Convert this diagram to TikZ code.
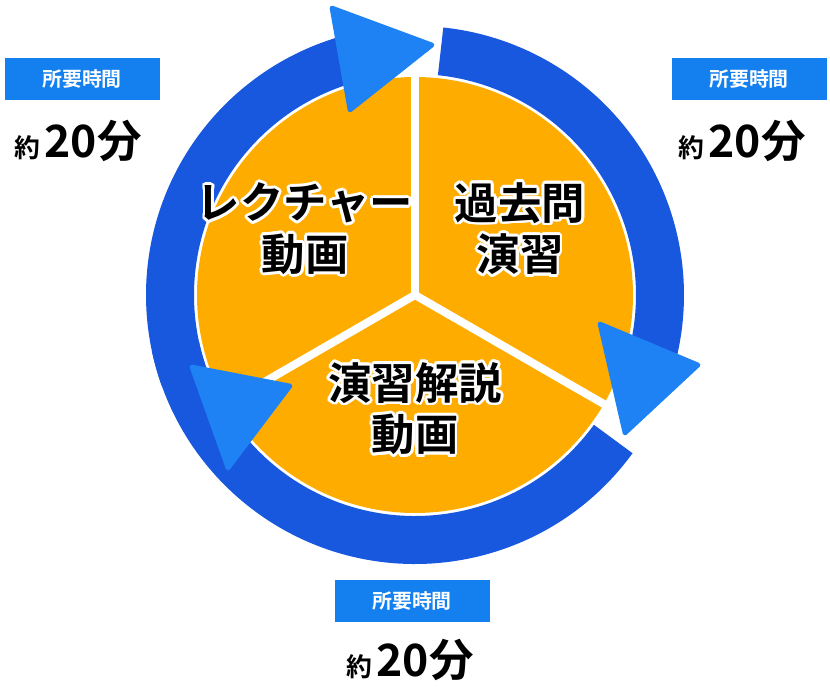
\documentclass[tikz,border=0pt]{standalone}
\usepackage{fontspec}
\usepackage{contour}
\newfontfamily\jpfont{Noto Sans CJK JP Bold}
\definecolor{ringblue}{RGB}{24,88,222}
\definecolor{tipblue}{RGB}{30,130,245}
\definecolor{diskorange}{RGB}{255,172,0}
\definecolor{tagblue}{RGB}{20,128,240}
\contourlength{2.4pt}
\begin{document}
\begin{tikzpicture}[x=0.03cm,y=0.03cm,
        ring/.style = {draw = ringblue, line width = 48*0.03cm},
        tip/.style = {fill = tipblue, draw = tipblue, line width = 4pt, line join = round},
        sector/.style = {font = \jpfont\fontsize{37}{44}\selectfont, align = center},
        tag/.style = {fill = tagblue, text = white, minimum width = 155*0.03cm,
            minimum height = 42*0.03cm, inner sep = 0pt, font = \jpfont\fontsize{17}{20}\selectfont},
        mins/.style = {font = \jpfont\fontsize{38}{44}\selectfont, inner sep = 0pt}]
    \useasboundingbox (0,0) rectangle (830,686);
    \coordinate (c) at (415,391);
    % disk
    \fill[diskorange] (c) circle (218);
    \foreach \a in {90,210,330}
        \draw[white, line width = 8*0.03cm] (c) -- ++(\a:220);
    % ring
    \draw[ring] ([shift={(200:245)}]c) arc (200:104:245);
    \draw[ring] ([shift={(84:245)}]c) arc (84:-20:245);
    \draw[ring] ([shift={(-36:245)}]c) arc (-36:-168:245);
    \draw[tip] (332,678) -- (432,641) -- (350,576) -- cycle;
    \draw[tip] (600,362) -- (698,321) -- (625,253) -- cycle;
    \draw[tip] (192,319) -- (290,300) -- (228,218) -- cycle;
    % sectors
    \node[sector] (lec) at (305,456) {\contour{white}{レクチャー}\\\contour{white}{動画}};
    \node[sector] (past) at (520,456) {\contour{white}{過去問}\\\contour{white}{演習}};
    \node[sector] (expl) at (415,276) {\contour{white}{演習解説}\\\contour{white}{動画}};
    % times
    \node[tag] (tl) at (82,607) {所要時間};
    \node[mins] (ml) at (78,545) {{\fontsize{22}{26}\selectfont 約\,}20分};
    \node[tag] (tr) at (749,607) {所要時間};
    \node[mins] (mr) at (742,545) {{\fontsize{22}{26}\selectfont 約\,}20分};
    \node[tag] (tb) at (412,85) {所要時間};
    \node[mins] (mb) at (410,26) {{\fontsize{22}{26}\selectfont 約\,}20分};
\end{tikzpicture}
\end{document}
